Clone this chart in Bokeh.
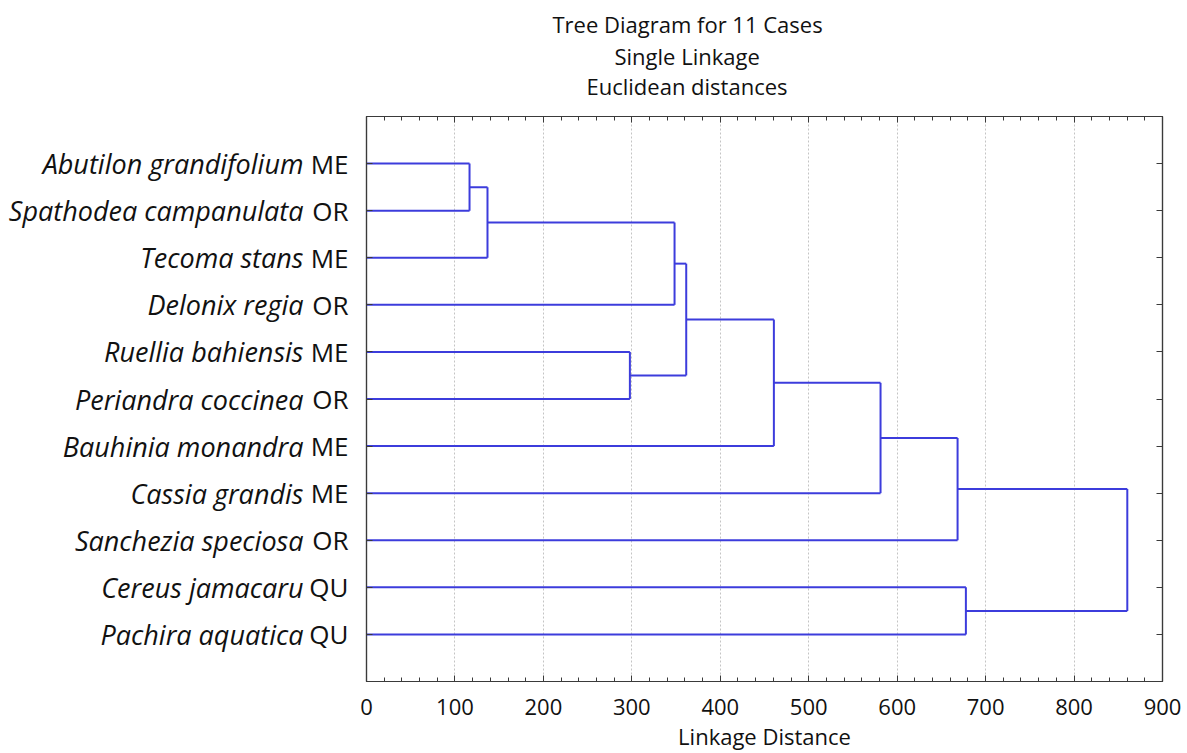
from bokeh.plotting import figure
from bokeh.models import Range1d, LinearAxis, FixedTicker, Title
from bokeh.embed import file_html
from bokeh.resources import INLINE

# ---------------- data ----------------
species = ["Abutilon grandifolium", "Spathodea campanulata", "Tecoma stans",
           "Delonix regia", "Ruellia bahiensis", "Periandra coccinea",
           "Bauhinia monandra", "Cassia grandis", "Sanchezia speciosa",
           "Cereus jamacaru", "Pachira aquatica"]
codes = ["ME", "OR", "ME", "OR", "ME", "OR", "ME", "ME", "OR", "QU", "QU"]

# merges: leaves are nodes 0..10, each merge creates node 11, 12, ...
merge_a = [0, 11, 12, 4, 13, 15, 16, 17, 9, 18]
merge_b = [1, 2, 3, 5, 14, 6, 7, 8, 10, 19]
merge_dist = [116.5, 136.8, 348.3, 297.8, 361.5, 460.6, 581.2, 668.3, 677.7, 860.2]

x_ticks = [0, 100, 200, 300, 400, 500, 600, 700, 800, 900]
title_lines = ["Tree Diagram for 11 Cases", "Single Linkage", "Euclidean distances"]
x_label = "Linkage Distance"

# ---------------- layout ----------------
W, H = 1187, 753
FL, FR, FT, FB = 366, 1162, 116, 682
XMAX, YMAX = 900, 12
FONT = "Open Sans"
FS = "22px"
FS_CODE = "26px"
FS_SPEC = "27px"
LINE = "#3c3cdc"
FRAME = "#3a3a3a"
TXT = "#111111"

p = figure(width=W, height=H, x_range=Range1d(0, XMAX), y_range=Range1d(YMAX, 0),
           output_backend="svg", toolbar_location=None,
           min_border_left=FL, min_border_right=W - FR,
           min_border_top=FT, min_border_bottom=H - FB)
p.background_fill_color = "white"
p.border_fill_color = "white"
p.outline_line_color = FRAME
p.outline_line_width = 1.2

# dendrogram geometry derived from merges
pos = {i: i + 1 for i in range(len(species))}
hgt = {i: 0.0 for i in range(len(species))}
x0s, y0s, x1s, y1s = [], [], [], []
for k, (a, b, d) in enumerate(zip(merge_a, merge_b, merge_dist)):
    node = len(species) + k
    x0s.append(d); y0s.append(pos[a]); x1s.append(d); y1s.append(pos[b])
    for c in (a, b):
        x0s.append(hgt[c]); y0s.append(pos[c]); x1s.append(d); y1s.append(pos[c])
    pos[node] = (pos[a] + pos[b]) / 2
    hgt[node] = d

# grid
p.xgrid.ticker = FixedTicker(ticks=x_ticks[1:-1])
p.xgrid.grid_line_color = "#c4c4c4"
p.xgrid.grid_line_dash = "2 2"
p.xgrid.grid_line_width = 1
p.ygrid.visible = False

p.segment(x0=x0s, y0=y0s, x1=x1s, y1=y1s, line_color=LINE, line_width=2)

minor = list(range(0, 901, 20))
leaf_ticks = list(range(1, len(species) + 1))

def style_axis(ax, labels=False):
    ax.axis_line_color = FRAME
    ax.axis_line_width = 1.2
    ax.major_tick_line_color = FRAME
    ax.minor_tick_line_color = FRAME
    ax.major_tick_in = 6
    ax.major_tick_out = 0
    ax.minor_tick_in = 4
    ax.minor_tick_out = 0
    if not labels:
        ax.major_label_text_color = None
        ax.major_label_text_font_size = "1px"
        ax.major_label_standoff = 0

# bottom axis
xa = p.xaxis[0]
xa.ticker = FixedTicker(ticks=x_ticks, minor_ticks=minor)
style_axis(xa, labels=True)
xa.major_label_text_font = FONT
xa.major_label_text_font_size = FS
xa.major_label_text_color = TXT
xa.major_label_standoff = 17
xa.axis_label = x_label
xa.axis_label_text_font = FONT
xa.axis_label_text_font_size = FS
xa.axis_label_text_font_style = "normal"
xa.axis_label_text_color = TXT
xa.axis_label_standoff = 3

# left axis: codes (upright) next to the frame
ya = p.yaxis[0]
ya.ticker = FixedTicker(ticks=leaf_ticks, minor_ticks=[])
style_axis(ya, labels=True)
ya.major_label_overrides = {t: c for t, c in zip(leaf_ticks, codes)}
ya.major_label_text_font = FONT
ya.major_label_text_font_size = FS_CODE
ya.major_label_text_color = TXT
ya.major_label_standoff = 18

# left axis: species (italic) further out
sp_ax = LinearAxis(ticker=FixedTicker(ticks=leaf_ticks, minor_ticks=[]))
sp_ax.axis_line_color = None
sp_ax.major_tick_line_color = None
sp_ax.minor_tick_line_color = None
sp_ax.major_tick_in = 0
sp_ax.major_tick_out = 0
sp_ax.major_label_overrides = {t: s for t, s in zip(leaf_ticks, species)}
sp_ax.major_label_text_font = FONT
sp_ax.major_label_text_font_size = FS_SPEC
sp_ax.major_label_text_font_style = "italic"
sp_ax.major_label_text_color = TXT
sp_ax.major_label_standoff = 3
p.add_layout(sp_ax, "left")

# top axis with inward ticks
top = LinearAxis(ticker=FixedTicker(ticks=x_ticks, minor_ticks=minor))
style_axis(top)
p.add_layout(top, "above")

# invisible spacer axis between the frame and the title block
spacer = LinearAxis(ticker=FixedTicker(ticks=x_ticks, minor_ticks=[]))
spacer.axis_line_color = None
spacer.major_tick_line_color = None
spacer.minor_tick_line_color = None
spacer.major_tick_in = 0
spacer.major_tick_out = 16
spacer.major_label_text_color = None
spacer.major_label_text_font_size = "1px"
spacer.major_label_standoff = 0
p.add_layout(spacer, "above")

# right axis
right = LinearAxis(ticker=FixedTicker(ticks=leaf_ticks, minor_ticks=[]))
style_axis(right)
p.add_layout(right, "right")

# title lines (stacked above, nearest first)
offsets = [186, 248, 220]
standoffs = [6, -5, 0]
for t, off, so in reversed(list(zip(title_lines, offsets, standoffs))):
    p.add_layout(Title(text=t, align="left", offset=off, text_font=FONT,
                       text_font_size=FS, text_font_style="normal",
                       text_color=TXT, standoff=so), "above")

open("out.html", "w").write(file_html(p, INLINE))
